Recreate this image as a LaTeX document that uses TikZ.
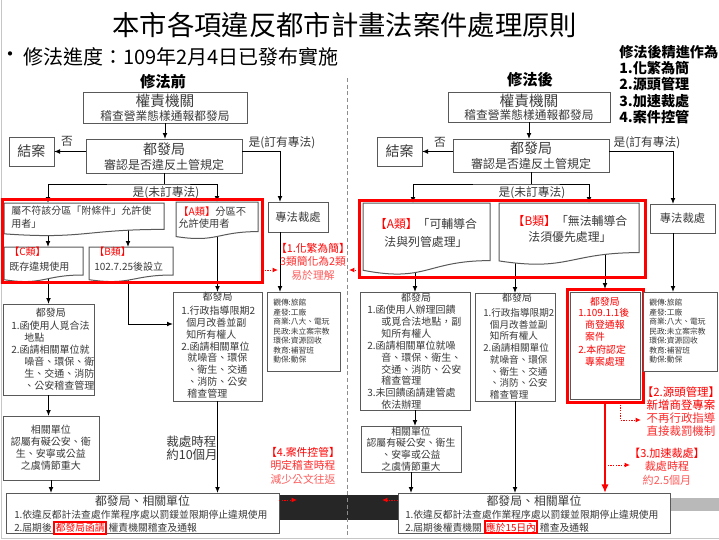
\documentclass[tikz,border=0pt]{standalone}
\usepackage{fontspec}
\setmainfont{Noto Sans CJK TC}
\usetikzlibrary{arrows.meta,calc}
\definecolor{boxline}{HTML}{595959}
\definecolor{txt}{HTML}{3A3A3A}
\definecolor{myred}{HTML}{FF0000}
\definecolor{red2}{HTML}{FF2B2B}
\definecolor{red3}{HTML}{FF5C5C}
\definecolor{bandc}{HTML}{262626}
\definecolor{sepc}{HTML}{8C8C8C}
\newcommand\myfs[2]{\fontsize{#1}{#2}\selectfont}
\newcommand\docshape[1]{%
  \filldraw[draw=boxline, line width=0.75pt, fill=white] let \p1=(#1.north west), \p2=(#1.south east) in
   (\x1,\y1) -- (\x2,\y1) -- (\x2,{\y1+0.80*(\y2-\y1)})
   .. controls ({\x1+0.5*(\x2-\x1)},{\y1+0.80*(\y2-\y1)}) and ({\x1+0.5*(\x2-\x1)},{\y1+1.107*(\y2-\y1)}) .. (\x1,{\y1+0.934*(\y2-\y1)}) -- cycle;}
\begin{document}
\begin{tikzpicture}[x=0.75pt,y=-0.75pt,
  box/.style={draw=boxline, line width=0.75pt, fill=white, inner sep=0pt, outer sep=0pt, text=txt},
  sz/.style 2 args={minimum width={#1*0.75pt}, minimum height={#2*0.75pt}},
  ph/.style={inner sep=0pt, outer sep=0pt},
  tx/.style={inner sep=0pt, text=txt},
  arr/.style={draw=black, line width=0.75pt, -{Latex[length=4.5pt,width=3.6pt]}},
  twoarr/.style={draw=black, line width=0.75pt, {Latex[length=4.5pt,width=3.6pt]}-{Latex[length=4.5pt,width=3.6pt]}},
  ln/.style={draw=black, line width=0.75pt},
  redarr/.style={draw=myred, line width=1.5pt, -{Latex[length=6.5pt,width=5.5pt]}},
  reddot/.style={draw=myred, line width=0.75pt, dash pattern=on 1pt off 1pt, -{Latex[length=4pt,width=3.6pt]}},
  redrect/.style={draw=myred, line width=2.25pt},
  redtag/.style={draw=myred, line width=1.5pt, inner sep=1pt, text=myred},
  redtxt/.style={inner sep=0pt, align=center, text=myred},
]
% background and frame
\fill[white] (0,0) rectangle (719,540);
\useasboundingbox (0,0) rectangle (719,540);
\draw[gray!45, line width=0.75pt] (1,0) -- (1,538) -- (719,538);
\fill[bandc] (279,495) rectangle (398,520);
\fill[gray!55] (670,498) rectangle (719,511);
\coordinate (sepT) at (347,78);
\coordinate (sepB) at (347,538);
\draw[sepc, line width=0.75pt, dash pattern=on 3pt off 2pt] (sepT) -- (sepB);

% headings
\node[inner sep=0pt, font=\myfs{20.5}{24}] (title) at (345,25) {本市各項違反都市計畫法案件處理原則};
\node[inner sep=0pt, font=\myfs{15}{18}] (bullet) at (10,57) {•};
\node[inner sep=0pt, font=\myfs{15}{18}, anchor=west] (prog) at (23,57) {修法進度：109年2月4日已發布實施};
\node[inner sep=0pt, font=\bfseries\myfs{11.5}{14}] (hd1) at (163,82) {修法前};
\node[inner sep=0pt, font=\bfseries\myfs{11.5}{14}] (hd2) at (530,80) {修法後};
\node[inner sep=0pt, anchor=north west, align=left, font=\bfseries\myfs{10.6}{12.2}] (goals) at (619,45) {修法後精進作為\\1.化繁為簡\\2.源頭管理\\3.加速裁處\\4.案件控管};

% ---------- left boxes ----------
\node[box, sz={164}{31}] (auth1) at (165,107.5) {};
\node[box, sz={156}{34}] (dfb1) at (164,156) {};
\node[box, sz={45}{29}, font=\myfs{10.5}{12}] (close1) at (31.5,151.5) {結案};
\node[box, sz={60}{30}, font=\myfs{8.5}{10}] (sp1) at (298,217) {專法裁處};
\node[ph, sz={160}{33}] (doc1) at (84,219.5) {};
\node[ph, sz={82}{37}] (doc2) at (217,220.5) {};
\node[ph, sz={79}{35}] (doc3) at (43.5,264.5) {};
\node[ph, sz={84}{35}] (doc4) at (131,264.5) {};
\node[ph, sz={260}{83}] (RL) at (132,240.5) {};
\node[box, sz={91}{91}] (L1) at (48.5,349.5) {};
\node[box, sz={89}{109}] (L2) at (217.5,346.5) {};
\node[box, sz={73}{79}] (L3) at (303.5,331.5) {};
\node[box, sz={96}{64}, align=center, font=\myfs{7.5}{9}] (L4) at (51,448) {相關單位\\認屬有礙公安、衛\\生、安寧或公益\\之虞情節重大};
\node[box, sz={273}{40}] (L5) at (142.5,513) {};

% ---------- right boxes ----------
\node[box, sz={162}{30}] (auth2) at (529,107) {};
\node[box, sz={156}{33}] (dfb2) at (531,155.5) {};
\node[box, sz={45}{29}, font=\myfs{10.5}{12}] (close2) at (399.5,151.5) {結案};
\node[box, sz={65}{29}, font=\myfs{8.5}{10}] (sp2) at (682.5,218.5) {專法裁處};
\node[ph, sz={127}{72}] (docA) at (426.5,239) {};
\node[ph, sz={140}{62}] (docB) at (569,234) {};
\node[ph, sz={286}{77}] (RR) at (502,238.5) {};
\node[box, sz={110}{118}] (R1) at (415,351) {};
\node[box, sz={80}{108}] (R2) at (515,347) {};
\node[box, draw=myred, line width=2.25pt, sz={76}{113}] (R3) at (605,345.5) {};
\draw[boxline, line width=0.5pt] ([shift={(3,3)}]R3.north west) rectangle ([shift={(-3,-3)}]R3.south east);
\node[box, sz={74}{79}] (R4) at (680,331.5) {};
\node[box, sz={100}{46}, align=center, font=\myfs{7.4}{8.8}] (R6) at (411,449) {相關單位\\認屬有礙公安、衛生\\、安寧或公益\\之虞情節重大};
\node[box, sz={272}{40}] (R5) at (534,513) {};

% ---------- coordinates ----------
\coordinate (k48) at (48,0);
\coordinate (k128) at (128,324);
\coordinate (jx1) at (280,0);
\coordinate (split1) at (164,184);
\coordinate (k413) at (413,0);
\coordinate (k589) at (589,0);
\coordinate (split2) at (531,184);
\coordinate (jx2) at (673,0);
\coordinate (k620) at (620,0);
\coordinate (hit1) at (278,270);
\coordinate (hit2) at (349,270);
\coordinate (hit3) at (297,500);
\coordinate (hit4) at (382,500);
\coordinate (hit5) at (641,420);
\coordinate (hit6) at (630,465);

% ---------- connectors left ----------
\draw[arr] (auth1.south) -- (auth1.south |- dfb1.north);
\draw[arr] (dfb1.west |- close1.east) -- (close1.east);
\draw[arr] (dfb1.east |- close1.east) -| (jx1 |- sp1.north);
\draw[arr] (jx1 |- sp1.south) -- (jx1 |- L3.north);
\draw[ln] (dfb1.south) -- (split1);
\draw[twoarr] (k48 |- doc1.north) |- (split1) -| (doc2.north);
\draw[arr] (k48 |- doc1.center) -- (k48 |- doc3.north);
\draw[arr] (k128 |- doc1.center) -- (k128 |- doc4.north);
\draw[arr] (L1.north |- doc3.center) -- (L1.north);
\draw[arr] (k128 |- doc4.center) -- (k128) -- (k128 -| L2.west);
\draw[arr] (L2.north |- doc2.center) -- (L2.north);
\draw[arr] (L1.south) -- (L1.south |- L4.north);
\draw[arr] (L4.south) -- (L4.south |- L5.north);
\draw[arr] (L2.south) -- (L2.south |- L5.north);

% ---------- connectors right ----------
\draw[arr] (auth2.south) -- (auth2.south |- dfb2.north);
\draw[arr] (dfb2.west |- close2.east) -- (close2.east);
\draw[arr] (dfb2.east |- close2.east) -| (jx2 |- sp2.north);
\draw[arr] (jx2 |- sp2.south) -- (jx2 |- R4.north);
\draw[ln] (dfb2.south) -- (split2);
\draw[twoarr] (k413 |- docA.north) |- (split2) -| (k589 |- docB.north);
\draw[arr] (R1.north |- docA.center) -- (R1.north);
\draw[arr] (R2.north |- docB.center) -- (R2.north);
\draw[arr] (R3.north |- docB.center) -- (R3.north);
\draw[arr] (R1.south) -- (R1.south |- R6.north);
\draw[arr] (R6.south) -- (R6.south |- R5.north);
\draw[arr] (R2.south) -- (R2.south |- R5.north);
\draw[redarr] (R3.south) -- (R3.south |- R5.north);
\draw[reddot] (k620 |- R3.south) |- (hit5);
\draw[reddot] (R3.south |- hit6) -- (hit6);
\draw[reddot] (RL.east |- hit1) -- (hit1);
\draw[reddot] (RR.west |- hit2) -- (hit2);
\draw[reddot] (L5.east |- hit3) -- (hit3);
\draw[reddot] (R5.west |- hit4) -- (hit4);

% ---------- document shapes ----------
\docshape{doc1}
\docshape{doc2}
\docshape{doc3}
\docshape{doc4}
\docshape{docA}
\docshape{docB}
\draw[redrect] (RL.north west) rectangle (RL.south east);
\draw[redrect] (RR.north west) rectangle (RR.south east);

% ---------- texts left ----------
\node[tx, font=\myfs{11}{13}] (auth1a) at (165,101) {權責機關};
\node[tx, font=\myfs{8.8}{10}] (auth1b) at (165,116) {稽查營業態樣通報都發局};
\node[tx, font=\myfs{10.5}{12}] (dfb1a) at (164,149) {都發局};
\node[tx, font=\myfs{9}{10}] (dfb1b) at (164,165) {審認是否違反土管規定};
\node[tx, font=\myfs{8.8}{10}] (no1) at (67,141) {否};
\node[tx, font=\myfs{8.8}{10}] (yes1) at (282,143) {是(訂有專法)};
\node[tx, font=\myfs{8.8}{10}] (yes1b) at (166,193) {是(未訂專法)};
\node[tx, anchor=north west, align=left, font=\myfs{7.5}{9.75}] (doc1t) at (11,206) {屬不符該分區「附條件」允許使\\用者」};
\node[tx, anchor=north west, align=left, font=\myfs{7.7}{9}] (doc2t) at (178,207) {\textcolor{myred}{【A類】}分區不\\允許使用者};
\node[tx, anchor=north west, align=left, font=\myfs{7.5}{11.25}] (doc3t) at (9,247) {\textcolor{myred}{【C類】}\\既存違規使用};
\node[tx, anchor=north west, align=left, font=\myfs{7.5}{11.25}] (doc4t) at (94,247) {\textcolor{myred}{【B類】}\\102.7.25後設立};
\node[tx, font=\myfs{7.5}{9}] (L1h) at (51,313) {都發局};
\node[tx, anchor=north west, align=left, font=\myfs{7.5}{9}] (L1b) at (11,321) {1.函使用人覓合法\\\hspace*{1.3em}地點\\2.函請相關單位就\\\hspace*{1.3em}噪音、環保、衛\\\hspace*{1.3em}生、交通、消防\\\hspace*{1.3em}、公安稽查管理};
\node[tx, font=\myfs{7.5}{9}] (L2h) at (217.5,297) {都發局};
\node[tx, anchor=north west, align=left, font=\myfs{7.5}{8.85}] (L2b) at (181,306) {1.行政指導限期2\\\hspace*{0.5em}個月改善並副\\\hspace*{0.5em}知所有權人\\2.函請相關單位\\\hspace*{0.6em}就噪音、環保\\\hspace*{0.6em}、衛生、交通\\\hspace*{0.6em}、消防、公安\\\hspace*{0.6em}稽查管理};
\node[tx, anchor=north west, align=left, font=\myfs{5.8}{7.1}] (L3t) at (273,299) {觀傳:旅館\\產發:工廠\\商業:八大、電玩\\民政:未立案宗教\\環保:資源回收\\教育:補習班\\動保:動保};
\node[tx, anchor=west, align=left, font=\myfs{9.4}{9.75}] (t10) at (166,448.5) {裁處時程\\約10個月};
\node[redtxt, font=\myfs{8.1}{10.1}] (n1) at (313,261.5) {【1.化繁為簡】\\\textcolor{red2}{3類簡化為2類}\\\textcolor{red3}{易於理解}};
\node[redtxt, font=\myfs{8.1}{10.1}] (n4) at (303,465.5) {【4.案件控管】\\\textcolor{red2}{明定稽查時程}\\\textcolor{red3}{減少公文往返}};
\node[tx, font=\myfs{8.9}{10}] (L5a) at (142.5,500.5) {都發局、相關單位};
\node[tx, anchor=base west, font=\myfs{7.35}{9}] (L5b) at (14,518.5) {1.依違反都計法查處作業程序處以罰鍰並限期停止違規使用};
\node[tx, anchor=base west, font=\myfs{7.35}{9}] (L5c) at (14,531.5) {2.屆期後};
\node[redtag, anchor=base west, font=\myfs{7.35}{9}] (L5d) at ([xshift=1pt]L5c.base east) {都發局函請};
\node[tx, anchor=base west, font=\myfs{7.35}{9}] (L5e) at ([xshift=1pt]L5d.base east) {權責機關稽查及通報};

% ---------- texts right ----------
\node[tx, font=\myfs{11}{13}] (auth2a) at (529,101) {權責機關};
\node[tx, font=\myfs{8.8}{10}] (auth2b) at (529,115.5) {稽查營業態樣通報都發局};
\node[tx, font=\myfs{10.5}{12}] (dfb2a) at (531,148.5) {都發局};
\node[tx, font=\myfs{9}{10}] (dfb2b) at (531,164) {審認是否違反土管規定};
\node[tx, font=\myfs{8.8}{10}] (no2) at (440,142) {否};
\node[tx, font=\myfs{8.8}{10}] (yes2) at (647,143) {是(訂有專法)};
\node[tx, font=\myfs{8.8}{10}] (yes2b) at (532,193) {是(未訂專法)};
\node[tx, align=center, font=\myfs{8.9}{13.9}] (docAt) at (426,233) {\textcolor{myred}{【A類】}「可輔導合\\法與列管處理」};
\node[tx, align=center, font=\myfs{8.9}{12}] (docBt) at (570,229) {\textcolor{myred}{【B類】}「無法輔導合\\法須優先處理」};
\node[tx, font=\myfs{7.5}{9}] (R1h) at (416,298) {都發局};
\node[tx, anchor=north west, align=left, font=\myfs{7.5}{8.9}] (R1b) at (367,305) {1.函使用人辦理回饋\\\hspace*{1.4em}或覓合法地點，副\\\hspace*{1.4em}知所有權人\\2.函請相關單位就噪\\\hspace*{1.4em}音、環保、衛生、\\\hspace*{1.4em}交通、消防、公安\\\hspace*{1.4em}稽查管理\\3.未回饋函請建管處\\\hspace*{1.4em}依法辦理};
\node[tx, font=\myfs{7.5}{9}] (R2h) at (517,298) {都發局};
\node[tx, anchor=north west, align=left, font=\myfs{7.2}{8.8}] (R2b) at (483,308) {1.行政指導限期2\\\hspace*{0.7em}個月改善並副\\\hspace*{0.7em}知所有權人\\2.函請相關單位\\\hspace*{0.7em}就噪音、環保\\\hspace*{0.7em}、衛生、交通\\\hspace*{0.7em}、消防、公安\\\hspace*{0.7em}稽查管理};
\node[inner sep=0pt, text=myred, font=\myfs{7.4}{9}] (R3h) at (605,302) {都發局};
\node[inner sep=0pt, text=myred, anchor=north west, align=left, font=\myfs{7.4}{9.15}] (R3b) at (578,308) {1.109.1.1後\\\hspace*{0.7em}商登通報\\\hspace*{0.7em}案件\\2.本府認定\\\hspace*{0.7em}專案處理};
\node[tx, anchor=north west, align=left, font=\myfs{5.8}{7.1}] (R4t) at (649,299) {觀傳:旅館\\產發:工廠\\商業:八大、電玩\\民政:未立案宗教\\環保:資源回收\\教育:補習班\\動保:動保};
\node[redtxt, font=\myfs{8.6}{9.75}] (n2) at (681,411.5) {【2.源頭管理】\\新增商登專案\\\textcolor{red2}{不再行政指導}\\\textcolor{red2}{直接裁罰機制}};
\node[redtxt, font=\myfs{8.3}{10.1}] (n3) at (667,466.5) {【3.加速裁處】\\\textcolor{red2}{裁處時程}\\\textcolor{red3}{約2.5個月}};
\node[tx, font=\myfs{8.9}{10}] (R5a) at (534,500.5) {都發局、相關單位};
\node[tx, anchor=base west, font=\myfs{7.35}{9}] (R5b) at (405,518) {1.依違反都計法查處作業程序處以罰鍰並限期停止違規使用};
\node[tx, anchor=base west, font=\myfs{7.35}{9}] (R5c) at (405,531) {2.屆期後權責機關};
\node[redtag, anchor=base west, font=\myfs{7.35}{9}] (R5d) at ([xshift=1pt]R5c.base east) {應於15日內};
\node[tx, anchor=base west, font=\myfs{7.35}{9}] (R5e) at ([xshift=1pt]R5d.base east) {稽查及通報};
\end{tikzpicture}
\end{document}
